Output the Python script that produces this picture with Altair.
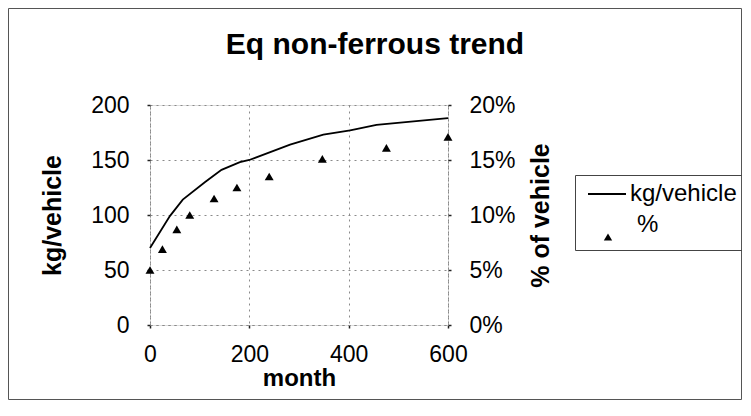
import altair as alt
import pandas as pd

# ---- data ----
line_months = [0, 40, 66, 111, 144, 181, 200, 282, 349, 403, 456, 600]
line_kg = [70, 99, 114, 130, 141, 148, 150, 164, 173, 177, 182, 188]
pct_months = [0, 25, 54, 80, 129, 175, 240, 347, 476, 600]
pct_values = [0.050, 0.069, 0.087, 0.100, 0.115, 0.125, 0.135, 0.151, 0.161, 0.171]
series_names = ["kg/vehicle", "%"]
x_ticks = [0, 200, 400, 600]
kg_ticks = [0, 50, 100, 150, 200]
pct_ticks = [0, 0.05, 0.10, 0.15, 0.20]

FONT = "Liberation Sans"
GRID = "#8a8a8a"

line_df = pd.DataFrame({"month": line_months, "kg": line_kg, "series": series_names[0]})
pct_df = pd.DataFrame({"month": pct_months, "pct": pct_values, "series": series_names[1]})

axis_common = dict(
    labelFont=FONT, labelFontSize=23, labelColor="black",
    titleFont=FONT, titleFontWeight="bold", titleColor="black",
    domainColor=GRID, domainDash=[2, 4], domainWidth=1,
    tickColor="#222", tickSize=3, tickWidth=1.5,
    gridColor=GRID, gridDash=[2, 4], gridWidth=1,
    labelFlush=False, labelOverlap=False,
)

x_enc = alt.X(
    "month:Q", scale=alt.Scale(domain=[0, 600], nice=False, zero=False),
    axis=alt.Axis(values=x_ticks, title="month", grid=True, labelPadding=15,
                  titlePadding=0, titleFontSize=24, **axis_common),
)

legend_common = dict(
    title=None, orient="none", labelFont=FONT, labelFontSize=24,
    labelColor="black", padding=0,
)

line = alt.Chart(line_df).mark_line(strokeWidth=1.8).encode(
    x=x_enc,
    y=alt.Y("kg:Q", scale=alt.Scale(domain=[0, 200], nice=False),
            axis=alt.Axis(values=kg_ticks, title="kg/vehicle", orient="left",
                          grid=True, labelPadding=18, titlePadding=25,
                          titleFontSize=25, **axis_common)),
    color=alt.Color(
        "series:N",
        scale=alt.Scale(domain=[series_names[0]], range=["black"]),
        legend=alt.Legend(legendX=437, legendY=69, symbolType="stroke",
                          symbolSize=1444, symbolStrokeWidth=1.8, labelOffset=3,
                          **legend_common),
    ),
)

points = alt.Chart(pct_df).mark_point(
    filled=True, fill="black", size=80, opacity=1
).encode(
    x=x_enc,
    y=alt.Y("pct:Q", scale=alt.Scale(domain=[0, 0.2], nice=False),
            axis=alt.Axis(values=pct_ticks, format=".0%", title="% of vehicle",
                          orient="right", grid=False, labelPadding=18,
                          titlePadding=13, titleAngle=270, titleBaseline="top",
                          titleFontSize=25, **axis_common)),
    shape=alt.Shape(
        "series:N",
        scale=alt.Scale(domain=[series_names[1]], range=["triangle-up"]),
        legend=alt.Legend(legendX=446, legendY=120, symbolSize=70,
                          symbolFillColor="black", labelOffset=17,
                          labelBaseline="bottom", **legend_common),
    ),
)

legend_box = alt.Chart(pd.DataFrame({"a": [0]})).mark_rect(
    fill="transparent", stroke="#444", strokeWidth=1
).encode(
    x=alt.value(425.5), x2=alt.value(592.5),
    y=alt.value(70.5), y2=alt.value(145.5),
)

border = alt.Chart(pd.DataFrame({"a": [0]})).mark_rect(
    fill="transparent", stroke="#555", strokeWidth=1
).encode(
    x=alt.value(-141.5), x2=alt.value(591.5),
    y=alt.value(-96.5), y2=alt.value(294.5),
)

chart = alt.layer(border, legend_box, line, points).resolve_scale(
    y="independent"
).properties(
    width=298, height=220,
    autosize=alt.AutoSizeParams(type="none"),
    padding={"left": 142, "top": 97, "right": 294, "bottom": 79},
    title=alt.TitleParams("Eq non-ferrous trend", font=FONT, fontSize=30,
                          fontWeight="bold", color="black", anchor="middle",
                          dx=76, offset=-52),
).configure_view(stroke=None).configure(background="white")

chart.save("out.html", embed_options={"renderer": "svg", "actions": False})
